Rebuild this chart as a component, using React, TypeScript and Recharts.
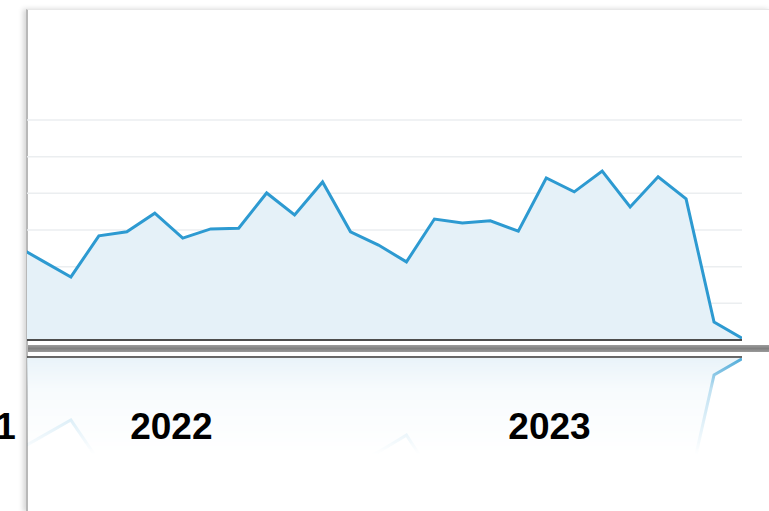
import { AreaChart, Area, XAxis, YAxis, CartesianGrid, ReferenceLine } from 'recharts'

// period index along the x axis (first one sits just left of the visible plot)
const periods = [0, 1, 2, 3, 4, 5, 6, 7, 8, 9, 10, 11, 12, 13, 14, 15, 16, 17, 18, 19, 20, 21, 22, 23, 24, 25, 26]
const values = [
  2.59, 2.15, 1.72, 2.84, 2.95, 3.46, 2.78, 3.03, 3.05, 4.01, 3.41, 4.31, 2.95, 2.59,
  2.13, 3.3, 3.19, 3.25, 2.97, 4.42, 4.04, 4.61, 3.63, 4.45, 3.85, 0.49, 0.05,
]
const gridValues = [1, 2, 3, 4, 5, 6]
const yearLabels = ['2021', '2022', '2023']
const yearTicks = [-1.9, 5.25, 19.0]

const data = periods.map((p, i) => ({ period: p, value: values[i] }))

const W = 769
const H = 511
const xDomain: [number, number] = [0.43, 26]

function YearTick(props: any) {
  const { x, y, index } = props
  return (
    <text
      x={x}
      y={y + 69}
      textAnchor="middle"
      fontFamily="'Liberation Sans', Arial, sans-serif"
      fontWeight="bold"
      fontSize={37}
      fill="#000"
    >
      {yearLabels[index]}
    </text>
  )
}

function Series({ withYears }: { withYears: boolean }) {
  return (
    <AreaChart
      width={W}
      height={H}
      data={data}
      margin={{ top: 10, right: 27, left: 27, bottom: withYears ? 0 : 171 }}
    >
      {withYears && (
        <CartesianGrid horizontal vertical={false} horizontalValues={gridValues} stroke="#ebeef0" strokeWidth={1.5} />
      )}
      <XAxis dataKey="period" type="number" domain={xDomain} allowDataOverflow hide />
      {withYears && (
        <XAxis
          xAxisId="years"
          type="number"
          domain={xDomain}
          allowDataOverflow
          ticks={yearTicks}
          interval={0}
          height={171}
          axisLine={false}
          tickLine={false}
          tickSize={0}
          tickMargin={0}
          tick={<YearTick />}
        />
      )}
      <YAxis type="number" domain={[0, 9]} hide />
      <Area
        type="linear"
        dataKey="value"
        stroke="#2d9ad1"
        strokeWidth={3}
        fill="#e5f1f8"
        fillOpacity={1}
        isAnimationActive={false}
        dot={false}
        activeDot={false}
      />
      <ReferenceLine y={0} stroke="#4d4d4d" strokeWidth={2} ifOverflow="extendDomain" />
    </AreaChart>
  )
}

export default function App() {
  return (
    <div
      style={{
        position: 'absolute',
        left: 0,
        top: 0,
        width: W,
        height: H,
        overflow: 'hidden',
        background: '#fff',
      }}
    >
      {/* frame */}
      <div
        style={{
          position: 'absolute',
          left: 26,
          top: 9,
          width: W - 26,
          height: H - 9,
          borderTop: '1px solid #e8e8e8',
          borderLeft: '2px solid #b8b8b8',
          boxShadow: '-3px 0 5px rgba(0,0,0,0.16)',
        }}
      />
      {/* reflection */}
      <div
        style={{
          position: 'absolute',
          left: 0,
          top: 354,
          width: W,
          height: H - 354,
          overflow: 'hidden',
          WebkitMaskImage: 'linear-gradient(to bottom, rgba(0,0,0,0.9) 0px, rgba(0,0,0,0.3) 35px, rgba(0,0,0,0) 100px)',
          maskImage: 'linear-gradient(to bottom, rgba(0,0,0,0.9) 0px, rgba(0,0,0,0.3) 35px, rgba(0,0,0,0) 100px)',
        }}
      >
        <div style={{ position: 'absolute', left: 0, top: 186 - 354, transform: 'scaleY(-1)' }}>
          <Series withYears={false} />
        </div>
      </div>
      {/* divider bar */}
      <div
        style={{
          position: 'absolute',
          left: 28,
          top: 345,
          width: W - 28,
          height: 7,
          background: 'linear-gradient(to bottom, #9c9c9c, #808080 50%, #9a9a9a)',
        }}
      />
      <div style={{ position: 'absolute', left: 0, top: 0 }}>
        <Series withYears />
      </div>
    </div>
  )
}
